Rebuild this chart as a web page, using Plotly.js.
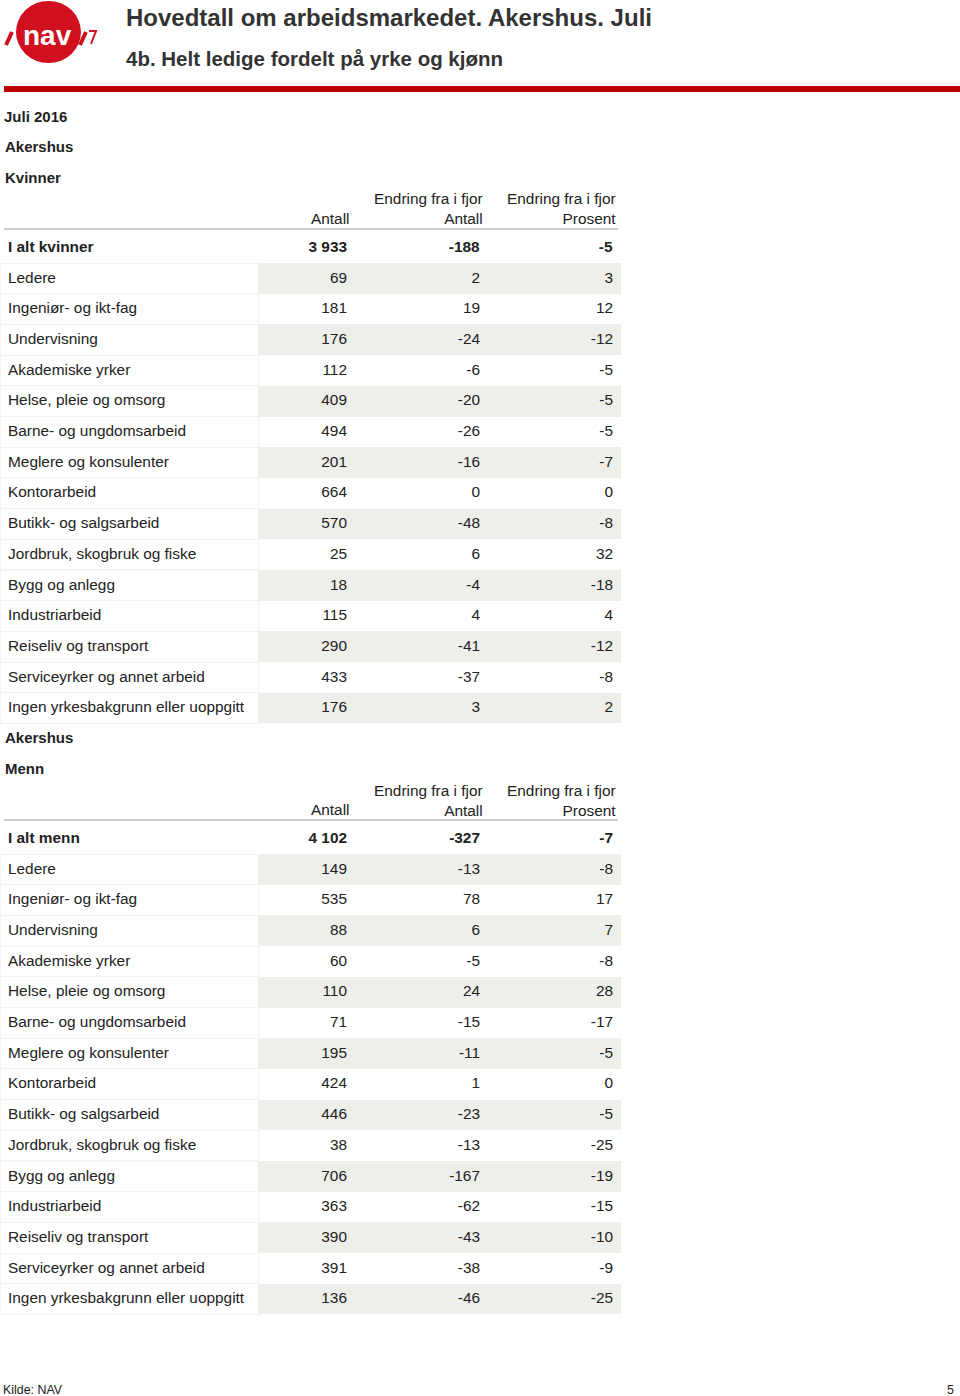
<!DOCTYPE html>
<html>
<head>
<meta charset="utf-8">
<script src="https://cdn.plot.ly/plotly-3.0.1.min.js"></script>
<style>
html,body{margin:0;padding:0;background:#fff;}
#chart{width:960px;height:1396px;}
</style>
</head>
<body>
<div id="chart"></div>
<script>
// ---- data ----
var categories = ['Ledere','Ingeniør- og ikt-fag','Undervisning','Akademiske yrker','Helse, pleie og omsorg','Barne- og ungdomsarbeid','Meglere og konsulenter','Kontorarbeid','Butikk- og salgsarbeid','Jordbruk, skogbruk og fiske','Bygg og anlegg','Industriarbeid','Reiseliv og transport','Serviceyrker og annet arbeid','Ingen yrkesbakgrunn eller uoppgitt'];
var columnHeaders = ['Antall', 'Endring fra i fjor<br>Antall', 'Endring fra i fjor<br>Prosent'];

var kvinnerTotalLabel = 'I alt kvinner';
var kvinnerTotal = [3933, -188, -5];
var kvinnerAntall = [69,181,176,112,409,494,201,664,570,25,18,115,290,433,176];
var kvinnerEndring = [2,19,-24,-6,-20,-26,-16,0,-48,6,-4,4,-41,-37,3];
var kvinnerProsent = [3,12,-12,-5,-5,-5,-7,0,-8,32,-18,4,-12,-8,2];

var mennTotalLabel = 'I alt menn';
var mennTotal = [4102, -327, -7];
var mennAntall = [149,535,88,60,110,71,195,424,446,38,706,363,390,391,136];
var mennEndring = [-13,78,6,-5,24,-15,-11,1,-23,-13,-167,-62,-43,-38,-46];
var mennProsent = [-8,17,7,-8,28,-17,-5,0,-5,-25,-19,-15,-10,-9,-25];

// ---- helpers ----
var W = 960, H = 1396;
function px(x){ return x / W; }
function py(y){ return 1 - y / H; }
function fmt(v){ return String(v).replace(/\B(?=(\d{3})+(?!\d))/g, ' '); }
var FONT = 'Liberation Sans, Arial, Helvetica, sans-serif';
var TXT = '#222222';
var SHADE = '#eeeeea';
var CLEAR = 'rgba(0,0,0,0)';
var FS = 15.4;

function makeTable(totalLabel, total, antall, endring, prosent, topPx, rowH, headH){
  var n = antall.length + 1;
  var col0 = ['<b>' + totalLabel + '</b>'].concat(categories);
  var col1 = ['<b>' + fmt(total[0]) + '</b>'].concat(antall.map(fmt));
  var col2 = ['<b>' + fmt(total[1]) + '</b>'].concat(endring.map(fmt));
  var col3 = ['<b>' + fmt(total[2]) + '</b>'].concat(prosent.map(fmt));
  var shade = [];
  for (var i = 0; i < n; i++) shade.push(i % 2 === 1 ? SHADE : CLEAR);
  var col0Fill = col0.map(function(){ return CLEAR; });
  var col0Line = col0.map(function(_, i){ return i === 0 ? CLEAR : '#f3f3f3'; });
  var noLine = col0.map(function(){ return CLEAR; });
  var bottomPx = topPx + headH + rowH * n + 4;
  return {
    type: 'table',
    domain: {x: [0, px(621)], y: [py(bottomPx), py(topPx)]},
    columnwidth: [258, 97, 133, 133],
    header: {
      values: ['', '', '', ''],
      align: ['left','right','right','right'],
      height: headH,
      fill: {color: CLEAR},
      line: {color: CLEAR, width: 0},
      font: {family: FONT, size: FS, color: TXT}
    },
    cells: {
      values: [col0, col1, col2, col3],
      align: ['left','right','right','right'],
      height: rowH,
      fill: {color: [col0Fill, shade, shade, shade]},
      line: {color: [col0Line, noLine, noLine, noLine], width: 1},
      font: {family: FONT, size: FS, color: TXT}
    },
    hoverinfo: 'skip'
  };
}

var rowH = 30.7, headH = 44;
var data = [
  makeTable(kvinnerTotalLabel, kvinnerTotal, kvinnerAntall, kvinnerEndring, kvinnerProsent, 186, rowH, headH),
  makeTable(mennTotalLabel, mennTotal, mennAntall, mennEndring, mennProsent, 777, rowH, headH)
];

function ann(text, x, y, opts){
  var a = {text: text, x: px(x), y: py(y), xref: 'paper', yref: 'paper',
    xanchor: 'left', yanchor: 'middle', showarrow: false,
    font: {family: FONT, size: 15, color: TXT}};
  for (var k in (opts || {})) a[k] = opts[k];
  return a;
}

// column header labels (right aligned above each numeric column)
var headerRight = [352, 485, 618];
function headerAnns(baseY){
  return columnHeaders.map(function(t, i){
    var twoLine = t.indexOf('<br>') >= 0;
    return ann(t, headerRight[i], twoLine ? baseY - 9 : baseY, {xanchor: 'right', align: 'right', font: {family: FONT, size: FS, color: TXT}});
  });
}

var annotations = [
  ann('<b>Hovedtall om arbeidsmarkedet. Akershus. Juli</b>', 124, 18, {font: {family: FONT, size: 24, color: '#333333'}}),
  ann('<b>4b. Helt ledige fordelt på yrke og kjønn</b>', 124, 59, {font: {family: FONT, size: 20.5, color: '#333333'}}),
  ann('<b>Juli 2016</b>', 2, 116),
  ann('<b>Akershus</b>', 3, 146),
  ann('<b>Kvinner</b>', 3, 177),
  ann('<b>Akershus</b>', 3, 737),
  ann('<b>Menn</b>', 3, 768),
  ann('Kilde: NAV', 1, 1390, {font: {family: FONT, size: 12.4, color: TXT}}),
  ann('5', 956, 1390, {xanchor: 'right', font: {family: FONT, size: 12.4, color: TXT}}),
  ann('<b>nav</b>', 47, 36, {xanchor: 'center', font: {family: FONT, size: 28, color: '#ffffff'}})
].concat(headerAnns(218)).concat(headerAnns(809));

var RED = '#d0101e';
var shapes = [
  {type: 'circle', xref: 'paper', yref: 'paper', x0: px(16), x1: px(81), y0: py(63), y1: py(1), fillcolor: RED, line: {width: 0}, layer: 'below'},
  {type: 'line', xref: 'paper', yref: 'paper', x0: px(6), y0: py(45), x1: px(12), y1: py(32), line: {color: RED, width: 4}},
  {type: 'line', xref: 'paper', yref: 'paper', x0: px(80), y0: py(45), x1: px(86), y1: py(32), line: {color: RED, width: 4}},
  {type: 'path', xref: 'paper', yref: 'paper', path: 'M ' + px(89) + ' ' + py(31) + ' L ' + px(96) + ' ' + py(31) + ' L ' + px(91) + ' ' + py(44), line: {color: RED, width: 2}},
  {type: 'rect', xref: 'paper', yref: 'paper', x0: px(4), x1: px(960), y0: py(92), y1: py(86), fillcolor: '#c00000', line: {width: 0}},
  {type: 'line', xref: 'paper', yref: 'paper', x0: px(4), x1: px(618), y0: py(229), y1: py(229), line: {color: '#cccccc', width: 2}, layer: 'below'},
  {type: 'line', xref: 'paper', yref: 'paper', x0: px(4), x1: px(618), y0: py(820), y1: py(820), line: {color: '#cccccc', width: 2}, layer: 'below'}
];

var layout = {
  width: W, height: H,
  margin: {l: 0, r: 0, t: 0, b: 0},
  paper_bgcolor: '#ffffff',
  plot_bgcolor: '#ffffff',
  showlegend: false,
  font: {family: FONT, color: TXT},
  annotations: annotations,
  shapes: shapes
};

Plotly.newPlot('chart', data, layout, {displayModeBar: false, staticPlot: true});
</script>
</body>
</html>
